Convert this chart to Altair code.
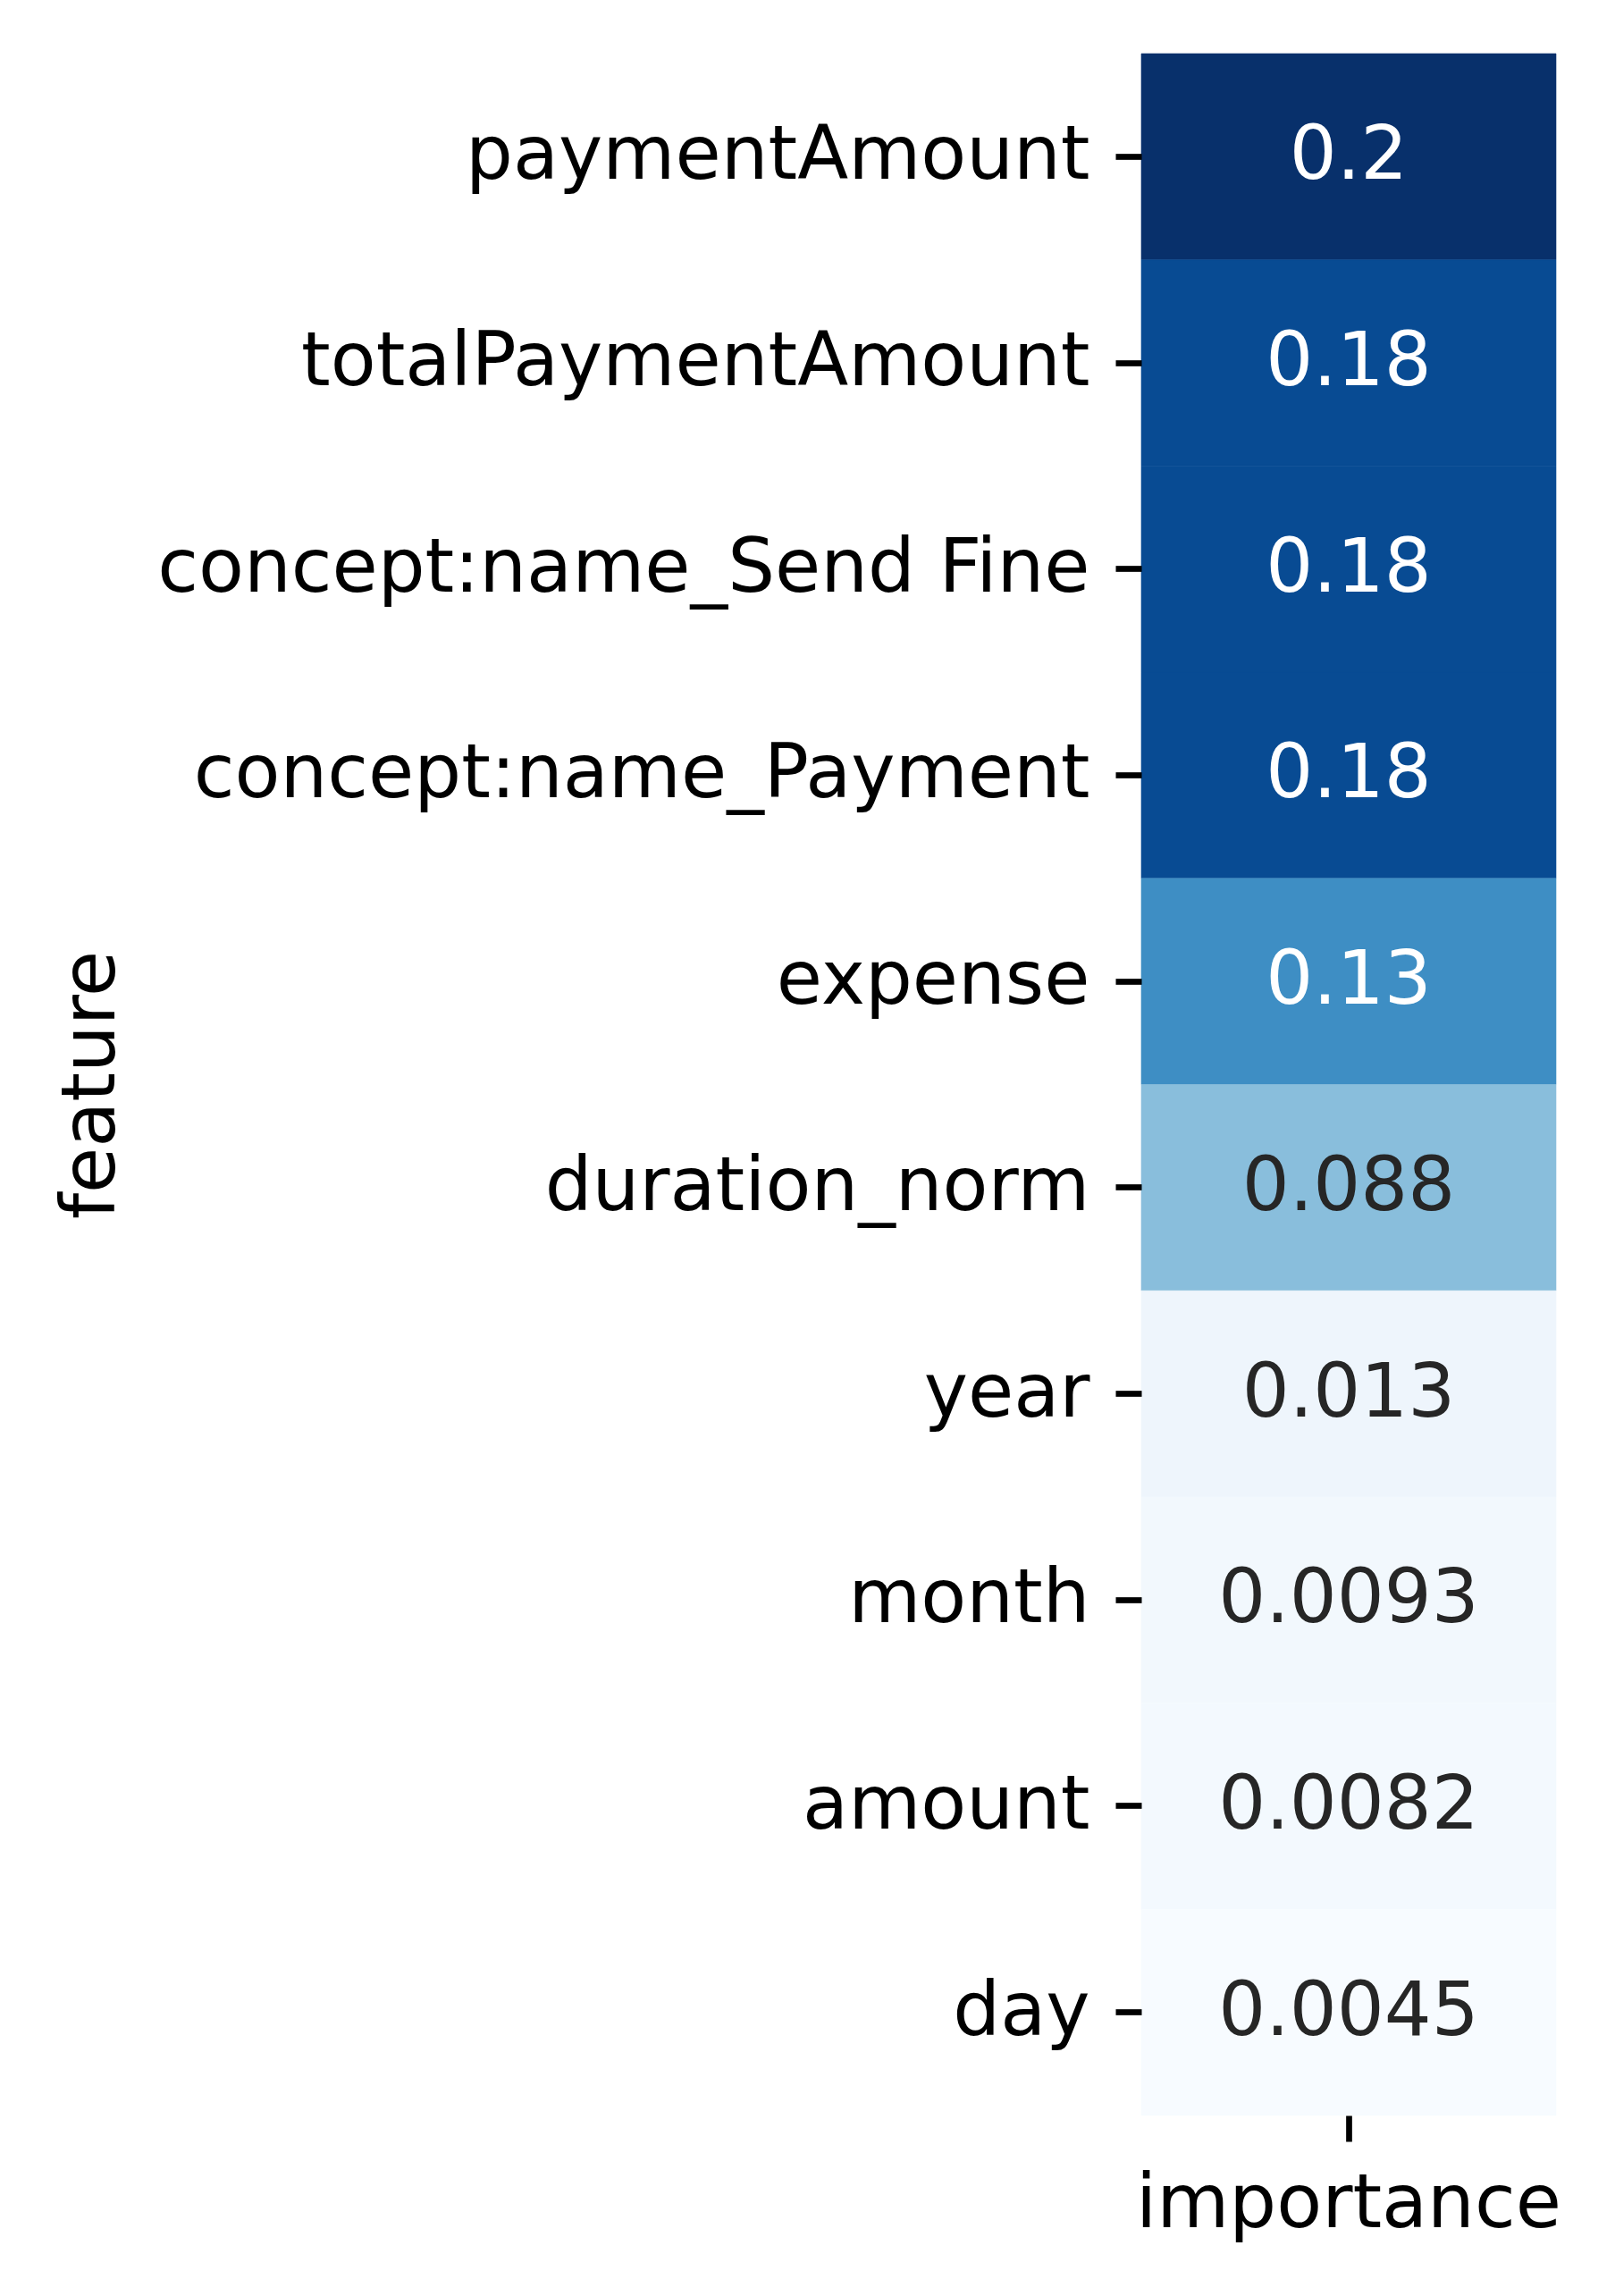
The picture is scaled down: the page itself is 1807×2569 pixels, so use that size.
import altair as alt
import pandas as pd

features = [
    "paymentAmount",
    "totalPaymentAmount",
    "concept:name_Send Fine",
    "concept:name_Payment",
    "expense",
    "duration_norm",
    "year",
    "month",
    "amount",
    "day",
]
importance = [0.2, 0.18, 0.18, 0.18, 0.13, 0.088, 0.013, 0.0093, 0.0082, 0.0045]
labels = ["0.2", "0.18", "0.18", "0.18", "0.13", "0.088", "0.013", "0.0093", "0.0082", "0.0045"]
column = "importance"

df = pd.DataFrame({
    "feature": features,
    "importance": importance,
    "label": labels,
    "column": [column] * len(features),
})

blues = ["#f7fbff", "#deebf7", "#c6dbef", "#9ecae1", "#6baed6",
         "#4292c6", "#2171b5", "#08519c", "#08306b"]
vmin, vmax = min(importance), max(importance)
dom = [vmin + i * (vmax - vmin) / (len(blues) - 1) for i in range(len(blues))]

FONT = "DejaVu Sans"
FS = 83.3

color_scale = alt.Scale(domain=dom, range=blues, interpolate="rgb")

x_enc = alt.X("column:N", title=None,
              scale=alt.Scale(paddingInner=0, paddingOuter=0),
              axis=alt.Axis(orient="bottom", labelAngle=0, labelFont=FONT, labelFontSize=FS,
                            labelColor="black", tickColor="black", tickSize=29,
                            tickWidth=6.7, labelPadding=29, domain=False, grid=False,
                            labelLimit=2000))
y_enc = alt.Y("feature:N", sort=features, title="feature",
              scale=alt.Scale(paddingInner=0, paddingOuter=0),
              axis=alt.Axis(labelFont=FONT, labelFontSize=FS, labelColor="black",
                            tickColor="black", tickSize=29, tickWidth=6.7,
                            labelPadding=29, domain=False, grid=False,
                            titleFont=FONT, titleFontSize=FS, titleFontWeight="normal",
                            titleColor="black", titleX=-1150, titleBaseline="alphabetic",
                            labelLimit=2000))

rect = alt.Chart(df).mark_rect(strokeWidth=0.6).encode(
    x=x_enc,
    y=y_enc,
    color=alt.Color("importance:Q", scale=color_scale, legend=None),
    stroke=alt.Stroke("importance:Q", scale=color_scale, legend=None),
)

text = alt.Chart(df).mark_text(font=FONT, fontSize=FS, align="center", baseline="middle").encode(
    x=alt.X("column:N"),
    y=alt.Y("feature:N", sort=features),
    text="label:N",
    color=alt.condition("datum.importance > 0.1", alt.value("white"), alt.value("#262626")),
)

chart = alt.layer(rect, text).properties(
    width=464,
    height=2307,
    autosize=alt.AutoSizeParams(type="none"),
    padding={"left": 1277, "top": 60, "right": 66, "bottom": 202},
    background="white",
).configure_view(stroke=None)

chart.save("out.html", embed_options={"renderer": "svg", "actions": False})
